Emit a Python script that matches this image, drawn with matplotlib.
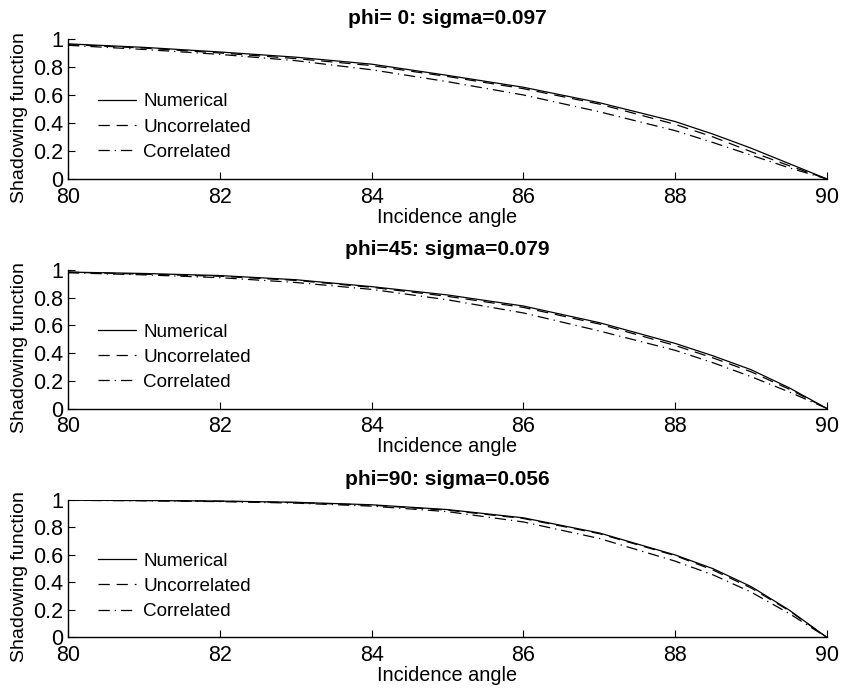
import numpy as np
from matplotlib import pyplot as plt
from matplotlib.ticker import FormatStrFormatter

plt.rcParams['font.family'] = ['Liberation Sans', 'DejaVu Sans']

angle = [80, 81, 82, 83, 84, 85, 86, 87, 88, 88.5, 89, 89.5, 90]

titles = ['phi= 0: sigma=0.097', 'phi=45: sigma=0.079', 'phi=90: sigma=0.056']

num_0 = [0.965, 0.94, 0.907, 0.87, 0.82, 0.74, 0.655, 0.545, 0.41, 0.32, 0.22, 0.11, 0.0]
unc_0 = [0.96, 0.935, 0.90, 0.86, 0.81, 0.732, 0.645, 0.535, 0.39, 0.30, 0.195, 0.095, 0.0]
cor_0 = [0.955, 0.925, 0.89, 0.845, 0.78, 0.695, 0.60, 0.48, 0.345, 0.26, 0.17, 0.08, 0.0]

num_45 = [0.985, 0.975, 0.96, 0.93, 0.88, 0.82, 0.74, 0.62, 0.47, 0.38, 0.28, 0.15, 0.0]
unc_45 = [0.985, 0.97, 0.955, 0.925, 0.875, 0.81, 0.73, 0.61, 0.455, 0.365, 0.265, 0.14, 0.0]
cor_45 = [0.98, 0.965, 0.945, 0.91, 0.86, 0.785, 0.69, 0.56, 0.42, 0.33, 0.23, 0.12, 0.0]

num_90 = [0.998, 0.996, 0.992, 0.983, 0.965, 0.93, 0.87, 0.76, 0.60, 0.50, 0.37, 0.20, 0.0]
unc_90 = [0.998, 0.996, 0.991, 0.981, 0.962, 0.926, 0.865, 0.755, 0.595, 0.49, 0.36, 0.195, 0.0]
cor_90 = [0.997, 0.994, 0.988, 0.977, 0.955, 0.915, 0.84, 0.72, 0.555, 0.455, 0.33, 0.175, 0.0]

panels = [(num_0, unc_0, cor_0), (num_45, unc_45, cor_45), (num_90, unc_90, cor_90)]

# axes boxes in figure fraction [left, bottom, width, height]
boxes = [[0.0808, 0.7432, 0.9014, 0.2009],
         [0.0808, 0.4139, 0.9014, 0.1987],
         [0.0808, 0.0854, 0.9014, 0.1973]]

fig = plt.figure(figsize=(8.42, 6.97), dpi=100)

for box, title, (num, unc, cor) in zip(boxes, titles, panels):
    ax = fig.add_axes(box)
    ax.plot(angle, num, color='black', lw=0.9, ls='-', label='Numerical')
    ax.plot(angle, unc, color='black', lw=0.9, ls=(0, (9, 5.5)), label='Uncorrelated')
    ax.plot(angle, cor, color='black', lw=0.9, ls=(0, (9, 4, 1, 4)), label='Correlated')

    ax.set_xlim(80, 90)
    ax.set_ylim(0, 1)
    ax.set_xticks(np.arange(80, 91, 2))
    ax.set_yticks(np.arange(0, 1.01, 0.2))
    ax.yaxis.set_major_formatter(FormatStrFormatter('%g'))
    ax.tick_params(direction='in', length=5, labelsize=15.5,
                   top=False, right=False)
    ax.tick_params(axis='x', pad=5.5)
    ax.tick_params(axis='y', pad=3.5)
    ax.spines['top'].set_visible(False)
    ax.spines['right'].set_visible(False)
    for s in ('left', 'bottom'):
        ax.spines[s].set_linewidth(1.0)

    ax.set_title(title, fontsize=15, fontweight='bold', pad=11)
    ax.set_xlabel('Incidence angle', fontsize=14.3, labelpad=0)
    ax.set_ylabel('Shadowing function', fontsize=14, labelpad=2)
    ax.yaxis.set_label_coords(-0.053, 0.44)

    ax.legend(loc='center left', bbox_to_anchor=(0.0395, 0.371), frameon=False,
              fontsize=13.6, borderpad=0, borderaxespad=0, handlelength=2.0,
              handletextpad=0.4, labelspacing=0.42)

fig.savefig('out.png', dpi=100)
